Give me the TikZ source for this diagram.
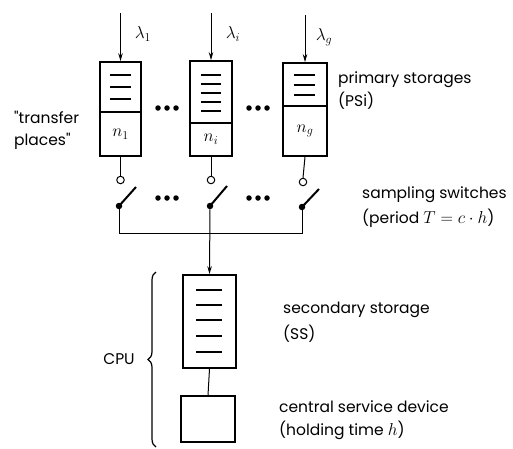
\documentclass[tikz,border=0pt]{standalone}
\usepackage{fontspec}
\setmainfont{Poppins}
\newfontfamily\labfont{Poppins}
\newcommand{\bigmath}[1]{{\fontsize{19}{22}\selectfont$#1$}}
\usetikzlibrary{arrows.meta,decorations.pathreplacing}
\begin{document}
\begin{tikzpicture}[x=1pt,y=-1pt,
  boxpart/.style={draw,line width=1.7pt,inner sep=0pt,rectangle},
  conn/.style={line width=1pt},
  arr/.style={line width=1pt,-{Stealth[length=8pt,width=4.5pt]}},
  qline/.style={line width=1.1pt},
  opencirc/.style={circle,draw,line width=1pt,inner sep=0pt,minimum size=7.5pt,fill=white},
  pivot/.style={circle,fill,inner sep=0pt,minimum size=6.5pt},
  dot/.style={circle,fill,inner sep=0pt,minimum size=5.5pt},
  lab/.style={anchor=west,inner sep=0pt,font=\fontsize{15.5}{22}\labfont},
  mlab/.style={inner sep=0pt,font=\fontsize{17}{19}\selectfont}
]
\useasboundingbox (0,0) rectangle (513,448);
% primary storages
\node[boxpart,minimum width=41pt,minimum height=50pt] (ps1u) at (120.5,87) {};
\node[boxpart,minimum width=41pt,minimum height=44pt] (ps1l) at (120.5,134) {};
\node[boxpart,minimum width=42pt,minimum height=62pt] (psiu) at (211,92) {};
\node[boxpart,minimum width=42pt,minimum height=33pt] (psil) at (211,139.5) {};
\node[boxpart,minimum width=44pt,minimum height=43pt] (psgu) at (305,84.5) {};
\node[boxpart,minimum width=44pt,minimum height=50pt] (psgl) at (305,131) {};
\node[mlab] (n1) at (ps1l) {$n_1$};
\node[mlab] (ni) at (psil) {$n_i$};
\node[mlab] (ng) at (psgl) {$n_g$};
% queue lines
\foreach \y in {75,87,99} \draw[qline] (110,\y) -- (131,\y);
\foreach \y in {75,84,93,102,111} \draw[qline] (201,\y) -- (221,\y);
\foreach \y in {75,85,95} \draw[qline] (294,\y) -- (315,\y);
% inputs
\coordinate (in1) at (120.5,13);
\coordinate (ini) at (211,13);
\coordinate (ing) at (305,15);
\draw[arr] (in1) -- (ps1u.north);
\draw[arr] (ini) -- (psiu.north);
\draw[arr] (ing) -- (psgu.north);
\node[mlab] (l1) at (143,34) {$\lambda_1$};
\node[mlab] (li) at (233,34) {$\lambda_i$};
\node[mlab] (lg) at (324,37) {$\lambda_g$};
% dots
\foreach \x in {158,167,176} \node[dot] at (\x,108) {};
\foreach \x in {249,258,267} \node[dot] at (\x,108) {};
\foreach \x in {158,167,176} \node[dot] at (\x,198) {};
\foreach \x in {249,258,267} \node[dot] at (\x,198) {};
% switches
\node[opencirc] (c1) at (120.5,180) {};
\node[opencirc] (ci) at (211,180) {};
\node[opencirc] (cg) at (303,182) {};
\draw[conn] (ps1l.south) -- (c1.north);
\draw[conn] (psil.south) -- (ci.north);
\draw[conn] (psgl.south) -- (cg.north);
\node[pivot] (p1) at (119,206) {};
\node[pivot] (pi) at (210,206) {};
\node[pivot] (pg) at (302,207) {};
\coordinate (b1) at (136,187);
\coordinate (bi) at (227,186);
\coordinate (bg) at (319,189);
\draw[line width=2pt] (p1.center) -- (b1);
\draw[line width=2pt] (pi.center) -- (bi);
\draw[line width=2pt] (pg.center) -- (bg);
\coordinate (bl) at (119,233);
\coordinate (br) at (302,233);
\draw[conn] (p1) -- (bl) -- (br) -- (pg);
% secondary storage
\node[boxpart,minimum width=53pt,minimum height=93pt] (ss) at (209.5,321.5) {};
\draw[arr] (pi) -- (ss.north);
\foreach \y in {290,305,320,336,352} \draw[qline] (196,\y) -- (222,\y);
\node[boxpart,minimum width=54pt,minimum height=46pt] (csd) at (208,419) {};
\draw[conn] (ss.south) -- (csd.north);
% brace
\draw[line width=1.2pt,decorate,decoration={brace,amplitude=8pt}] (156,447) -- (156,272);
\node[lab,anchor=center] (cpu) at (119,359) {CPU};
% labels
\node[lab,align=left] (tp) at (14,130) {\char"22 transfer\\places\char"22};
\node[lab] (t1) at (338,80) {primary storages};
\node[lab] (t2) at (338,101) {(PSi)};
\node[lab] (t3) at (362,195) {sampling switches};
\node[lab] (t4) at (362,218) {(period \bigmath{T=c\cdot h})};
\node[lab] (t5) at (283,310) {secondary storage};
\node[lab] (t6) at (283,334) {(SS)};
\node[lab] (t7) at (279,407) {central service device};
\node[lab] (t8) at (279,430) {(holding time \bigmath{h})};
\end{tikzpicture}
\end{document}
